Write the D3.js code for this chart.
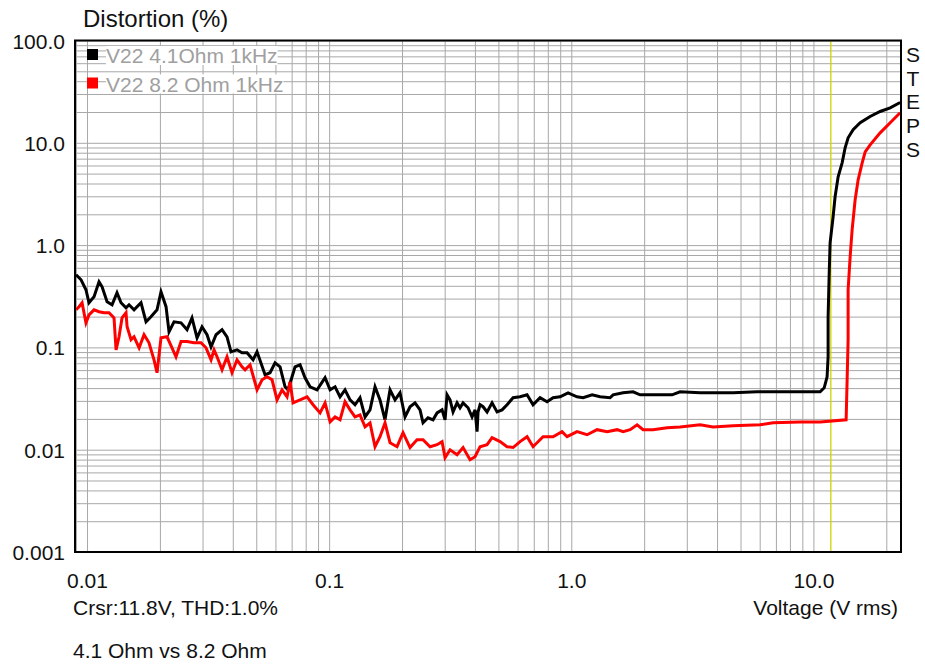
<!DOCTYPE html>
<html>
<head>
<meta charset="utf-8">
<script src="https://cdn.jsdelivr.net/npm/d3@7/dist/d3.min.js"></script>
<style>
  body { margin: 0; background: #fff; }
  svg text { font-family: "Liberation Sans", Arial, sans-serif; }
</style>
</head>
<body>
<div id="chart"></div>
<script>
// series names + colours (legend order)
var seriesNames = ["V22 4.1Ohm 1kHz", "V22 8.2 Ohm 1kHz"];
var seriesColors = ["#000000", "#ff0000"];

// [voltage V rms, THD %]
var thd41 = [
  [0.00901,0.513],[0.00945,0.458],[0.0099,0.366],[0.01019,0.273],[0.01069,0.313],[0.01121,0.438],
  [0.01154,0.391],[0.0121,0.279],[0.01269,0.261],[0.0133,0.342],[0.01382,0.273],[0.01449,0.244],
  [0.01491,0.261],[0.01564,0.233],[0.01671,0.273],[0.01753,0.178],[0.01837,0.199],[0.01946,0.233],
  [0.02021,0.350],[0.0212,0.250],[0.02181,0.142],[0.02287,0.178],[0.02445,0.174],[0.02589,0.149],
  [0.02714,0.194],[0.02847,0.124],[0.02985,0.159],[0.03131,0.133],[0.03253,0.101],[0.03411,0.133],
  [0.03611,0.149],[0.03786,0.127],[0.03933,0.0905],[0.04164,0.0947],[0.04367,0.0885],[0.0458,0.0885],
  [0.0485,0.0756],[0.05037,0.0905],[0.05436,0.054],[0.057,0.0565],[0.05978,0.0707],[0.06269,0.0646],
  [0.06575,0.0412],[0.06766,0.0385],[0.07231,0.0646],[0.07583,0.0676],[0.07952,0.0505],[0.0834,0.0412],
  [0.08914,0.0385],[0.09619,0.0505],[0.1009,0.0385],[0.1058,0.0412],[0.1109,0.0329],[0.1163,0.0385],
  [0.122,0.0307],[0.1279,0.0275],[0.1341,0.0322],[0.1407,0.0209],[0.1475,0.0245],[0.1547,0.0412],
  [0.1622,0.0307],[0.1701,0.0196],[0.1784,0.0385],[0.1871,0.0307],[0.1962,0.036],[0.2058,0.0209],
  [0.2158,0.0263],[0.2263,0.0287],[0.2373,0.0245],[0.2442,0.0183],[0.2561,0.0205],[0.2686,0.0196],
  [0.279,0.0229],[0.2926,0.0245],[0.3011,0.0196],[0.3069,0.0344],[0.3157,0.0307],[0.3249,0.0234],
  [0.3375,0.0287],[0.3472,0.0257],[0.3573,0.0287],[0.3747,0.0257],[0.3892,0.0209],[0.4005,0.0245],
  [0.4082,0.015],[0.4121,0.0234],[0.42,0.0275],[0.4322,0.0263],[0.449,0.0234],[0.4708,0.0287],
  [0.4937,0.0234],[0.5178,0.0245],[0.543,0.0275],[0.575,0.0322],[0.6144,0.0329],[0.6568,0.0344],
  [0.6953,0.0275],[0.7431,0.0322],[0.7944,0.0294],[0.8409,0.0322],[0.8988,0.0329],[0.9699,0.036],
  [1.056,0.0329],[1.119,0.0322],[1.219,0.0344],[1.315,0.0329],[1.446,0.0322],[1.488,0.0344],
  [1.637,0.036],[1.80,0.0368],[1.924,0.0344],[2.327,0.0344],[2.608,0.0344],[2.814,0.0368],
  [3.404,0.036],[4.659,0.036],[5.853,0.0368],[8.014,0.0368],[10.66,0.0368],[11.08,0.0403],
  [11.39,0.0516],[11.5,0.081],[11.5,0.199],[11.61,0.49],[11.72,1.053],[12.06,1.891],
  [12.29,2.966],[12.65,4.652],[13.14,6.375],[13.52,8.934],[13.91,11.19],[14.59,13.4],
  [15.6,15.69],[17.15,18.07],[18.86,20.23],[20.75,21.98],[22.81,24.77]
];

var thd82 = [
  [0.00901,0.233],[0.00927,0.250],[0.00954,0.273],[0.0099,0.174],[0.01019,0.208],[0.01069,0.233],
  [0.01121,0.223],[0.01176,0.218],[0.01233,0.218],[0.01293,0.194],[0.01318,0.0947],[0.01356,0.127],
  [0.01395,0.194],[0.01449,0.218],[0.01464,0.159],[0.0152,0.119],[0.01564,0.127],[0.01641,0.0991],
  [0.0172,0.133],[0.01803,0.111],[0.01891,0.0756],[0.01946,0.0565],[0.02021,0.124],[0.0214,0.127],
  [0.02244,0.0991],[0.02331,0.081],[0.02445,0.114],[0.02589,0.114],[0.02766,0.111],[0.02957,0.111],
  [0.03101,0.0991],[0.03253,0.0756],[0.03347,0.0947],[0.03444,0.081],[0.03611,0.0604],[0.03786,0.081],
  [0.03971,0.0565],[0.04164,0.0756],[0.04367,0.0646],[0.04494,0.0604],[0.04713,0.0676],[0.05037,0.0385],
  [0.05283,0.0482],[0.0554,0.0516],[0.0581,0.0482],[0.06093,0.0307],[0.06389,0.0385],[0.06701,0.0329],
  [0.06895,0.0461],[0.07095,0.0287],[0.07583,0.0307],[0.08105,0.0329],[0.08582,0.0275],[0.09172,0.0229],
  [0.09619,0.0287],[0.1009,0.0187],[0.1058,0.0209],[0.1109,0.0196],[0.1163,0.0294],[0.122,0.0245],
  [0.1279,0.0209],[0.1341,0.0219],[0.1407,0.0167],[0.1475,0.0183],[0.1547,0.0107],[0.1622,0.0134],
  [0.1701,0.0183],[0.1784,0.0117],[0.1907,0.0107],[0.2019,0.0147],[0.2158,0.0105],[0.2306,0.0125],
  [0.2442,0.0125],[0.261,0.0107],[0.279,0.0112],[0.2926,0.012],[0.3011,0.00834],[0.3157,0.00998],
  [0.3375,0.00892],[0.3573,0.0105],[0.3819,0.00797],[0.4005,0.00853],[0.42,0.0107],[0.449,0.0112],
  [0.4708,0.0131],[0.508,0.012],[0.543,0.0107],[0.575,0.0105],[0.6144,0.012],[0.6568,0.0134],
  [0.6953,0.0107],[0.7647,0.0134],[0.8409,0.0134],[0.916,0.015],[0.9606,0.0134],[1.056,0.015],
  [1.162,0.014],[1.278,0.0157],[1.406,0.015],[1.546,0.0157],[1.637,0.015],[1.75,0.0157],
  [1.87,0.0175],[1.98,0.0157],[2.177,0.0157],[2.488,0.0164],[2.814,0.0167],[3.404,0.0175],
  [3.851,0.0167],[4.659,0.0171],[6.023,0.0175],[6.817,0.0183],[8.812,0.0187],[10.66,0.0187],
  [13.65,0.0196],[13.78,0.0482],[13.91,0.119],[13.91,0.366],[14.18,0.768],[14.45,1.411],
  [14.87,2.772],[15.3,4.347],[15.9,6.375],[16.36,8.166],[17.15,9.559],[18.86,12.52],
  [20.75,15.69],[22.81,19.65]
];

var xTickValues = [0.01, 0.1, 1, 10];
var xTickLabels = ["0.01", "0.1", "1.0", "10.0"];
var yTickValues = [0.001, 0.01, 0.1, 1, 10, 100];
var yTickLabels = ["0.001", "0.01", "0.1", "1.0", "10.0", "100.0"];
var xDomain = [0.00892, 23.0];
var yDomain = [0.001, 100];
var cursorVolts = 11.8;

var margin = {top: 40.5, right: 24, bottom: 112, left: 75},
    width = 925 - margin.left - margin.right,
    height = 664 - margin.top - margin.bottom;

var svg = d3.select("#chart")
  .append("svg")
    .attr("width", 925)
    .attr("height", 664);

var g = svg.append("g")
    .attr("transform", "translate(" + margin.left + "," + margin.top + ")");

var x = d3.scaleLog().domain(xDomain).range([0, width]);
var y = d3.scaleLog().domain(yDomain).range([height, 0]);

// grid: every 1..9 step of each decade
g.append("g")
    .attr("class", "xgrid")
    .attr("transform", "translate(0," + height + ")")
    .call(d3.axisBottom(x).tickValues(x.ticks()).tickSize(-height).tickFormat(""))
    .call(function(s) { s.select(".domain").remove(); })
    .selectAll("line").attr("stroke", "#a8a8a8");

g.append("g")
    .attr("class", "ygrid")
    .call(d3.axisLeft(y).tickValues(y.ticks()).tickSize(-width).tickFormat(""))
    .call(function(s) { s.select(".domain").remove(); })
    .selectAll("line").attr("stroke", "#a8a8a8");

// cursor
g.append("line")
    .attr("x1", x(cursorVolts)).attr("x2", x(cursorVolts))
    .attr("y1", 0).attr("y2", height)
    .attr("stroke", "#d2d200")
    .attr("stroke-width", 1.3);

g.append("clipPath").attr("id", "plotclip")
  .append("rect").attr("width", width).attr("height", height);

var line = d3.line()
    .x(function(d) { return x(d[0]); })
    .y(function(d) { return y(d[1]); });

var allSeries = [thd41, thd82];
g.append("g").attr("clip-path", "url(#plotclip)")
  .selectAll("path")
  .data(allSeries)
  .enter()
  .append("path")
    .attr("d", line)
    .attr("fill", "none")
    .attr("stroke", function(d, i) { return seriesColors[i]; })
    .attr("stroke-width", 3)
    .attr("stroke-linejoin", "miter");

// frame
g.append("rect")
    .attr("width", width).attr("height", height)
    .attr("fill", "none")
    .attr("stroke", "#000")
    .attr("stroke-width", 2);

// legend (text sits on a white patch, grid shows around it)
var legend = g.selectAll(".leg")
  .data(seriesNames)
  .enter()
  .append("g")
    .attr("class", "leg")
    .attr("transform", function(d, i) { return "translate(12," + (8.5 + i * 28.5) + ")"; });
legend.append("rect")
    .attr("width", 11).attr("height", 11)
    .attr("fill", function(d, i) { return seriesColors[i]; });
legend.append("text")
    .attr("x", 19).attr("y", 14)
    .attr("fill", "#a0a0a0")
    .style("font-size", "21px")
    .text(function(d) { return d; });
legend.each(function() {
  var t = d3.select(this).select("text");
  var b = t.node().getBBox();
  d3.select(this).insert("rect", "text")
    .attr("x", b.x).attr("y", b.y + 2)
    .attr("width", b.width).attr("height", b.height - 4)
    .attr("fill", "#fff");
});

// axes labels
var xAxis = g.append("g")
    .attr("transform", "translate(0," + height + ")")
    .call(d3.axisBottom(x).tickValues(xTickValues).tickSize(0)
      .tickFormat(function(d, i) { return xTickLabels[i]; }));
xAxis.select(".domain").remove();
xAxis.selectAll("text")
    .attr("y", 36).attr("dy", 0)
    .attr("fill", "#111")
    .style("font-size", "21px");

var yAxis = g.append("g")
    .call(d3.axisLeft(y).tickValues(yTickValues).tickSize(0).tickPadding(10)
      .tickFormat(function(d, i) { return yTickLabels[i]; }));
yAxis.select(".domain").remove();
yAxis.selectAll("text")
    .attr("dy", "0.36em")
    .attr("fill", "#111")
    .style("font-size", "21px");

// titles and notes
svg.append("text")
    .attr("x", 83).attr("y", 27)
    .style("font-size", "24px")
    .attr("fill", "#111")
    .text("Distortion (%)");

svg.append("text")
    .attr("x", 898).attr("y", 615)
    .attr("text-anchor", "end")
    .style("font-size", "21px")
    .attr("fill", "#111")
    .text("Voltage (V rms)");

svg.append("text")
    .attr("x", 73).attr("y", 615)
    .style("font-size", "21px")
    .attr("fill", "#111")
    .text("Crsr:11.8V, THD:1.0%");

svg.append("text")
    .attr("x", 73).attr("y", 658)
    .style("font-size", "21px")
    .attr("fill", "#111")
    .text("4.1 Ohm vs 8.2 Ohm");

svg.selectAll(".steps")
  .data("STEPS".split(""))
  .enter()
  .append("text")
    .attr("class", "steps")
    .attr("x", 913)
    .attr("y", function(d, i) { return 62 + i * 23.7; })
    .attr("text-anchor", "middle")
    .style("font-size", "21px")
    .attr("fill", "#111")
    .text(function(d) { return d; });
</script>
</body>
</html>
